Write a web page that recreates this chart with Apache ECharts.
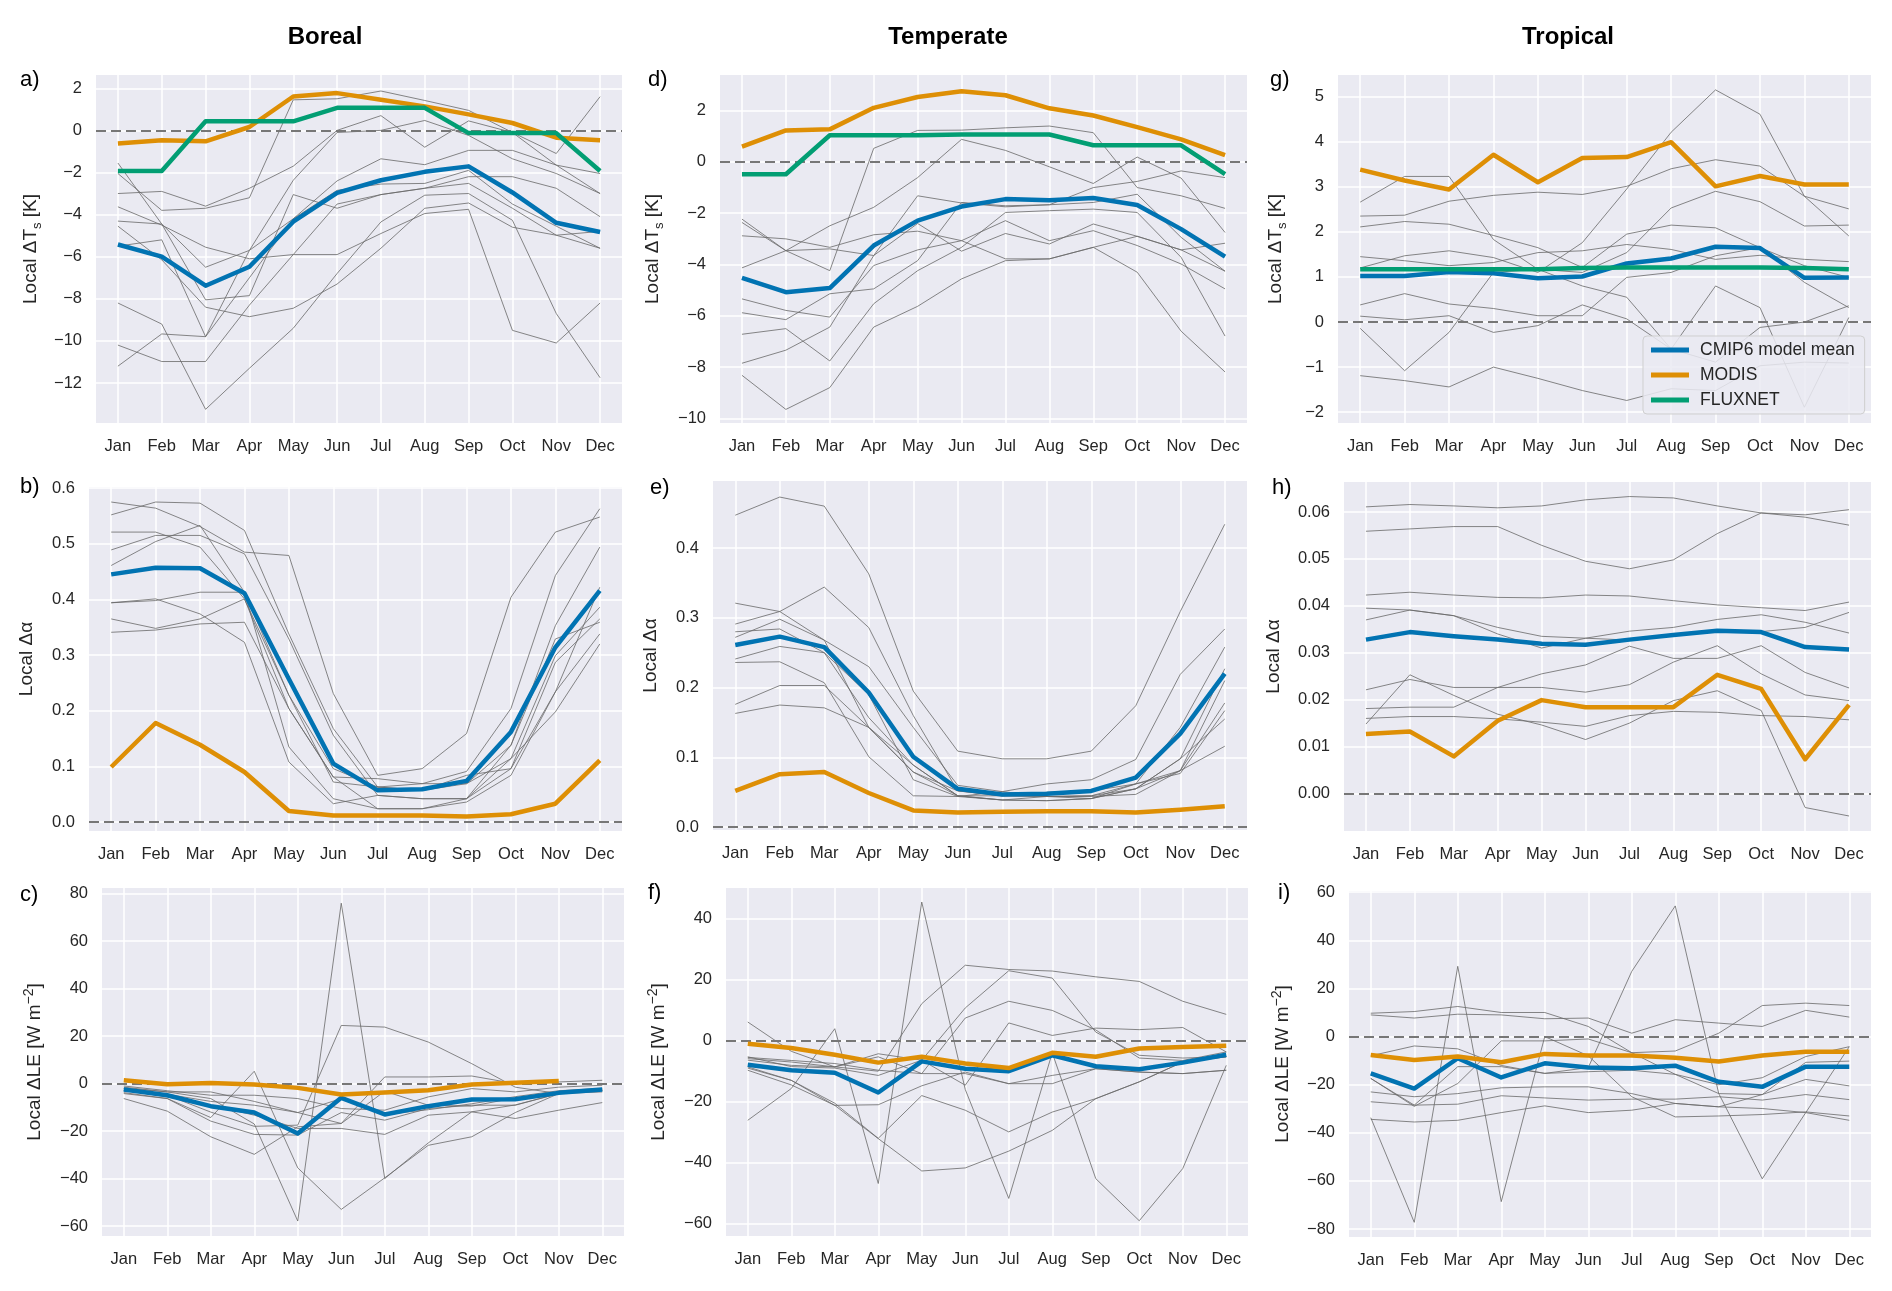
<!DOCTYPE html>
<html><head><meta charset="utf-8">
<script src="https://cdn.jsdelivr.net/npm/echarts@6/dist/echarts.min.js"></script>
<style>html,body{margin:0;padding:0;background:#fff}#c{width:1892px;height:1291px}</style>
</head><body><div id="c"></div><script>
// ---------------- DATA ----------------
const months = ['Jan','Feb','Mar','Apr','May','Jun','Jul','Aug','Sep','Oct','Nov','Dec'];
const regions = ['Boreal','Temperate','Tropical'];
const legendNames = ['CMIP6 model mean','MODIS','FLUXNET'];

// a) Boreal, local dTs [K]
const a_mean = [-5.42,-6.0,-7.38,-6.48,-4.34,-2.97,-2.37,-1.97,-1.71,-2.95,-4.39,-4.83];
const a_modis = [-0.62,-0.47,-0.52,0.16,1.61,1.77,1.45,1.14,0.76,0.35,-0.35,-0.47];
const a_fluxnet = [-1.93,-1.93,0.43,0.43,0.43,1.07,1.07,1.07,-0.13,-0.13,-0.13,-1.93];
const a_models = [
 [-3.0,-2.9,-3.6,-2.75,-1.7,0.0,0.7,-0.8,0.45,-0.1,-1.1,1.6],
 [-1.55,-4.45,-8.05,-7.85,-3.05,-3.7,-3.05,-2.75,-2.2,-2.2,-2.75,-4.1],
 [-2.05,-3.8,-3.7,-3.2,1.45,1.5,1.87,1.42,0.95,-0.1,-1.65,-2.05],
 [-3.63,-4.5,-5.55,-6.1,-5.9,-5.9,-4.9,-3.95,-3.75,-9.5,-10.1,-8.2],
 [-4.31,-4.45,-6.5,-5.7,-4.2,-2.4,-1.35,-1.63,-0.95,-0.95,-1.65,-3.0],
 [-4.55,-6.15,-8.4,-8.85,-8.45,-7.3,-5.6,-3.7,-3.45,-4.6,-4.98,-4.8],
 [-5.5,-5.2,-9.8,-7.0,-4.2,-2.85,-2.55,-2.52,-1.9,-3.5,-4.55,-5.6],
 [-8.2,-9.2,-13.25,-11.3,-9.4,-6.8,-4.35,-3.08,-3.0,-4.27,-8.7,-11.75],
 [-10.2,-10.98,-10.98,-8.3,-5.9,-3.5,-3.05,-2.75,-2.52,-3.7,-4.98,-5.6],
 [-11.2,-9.67,-9.8,-5.7,-2.37,-0.1,0.0,0.47,-0.24,-1.35,-2.05,-3.0]
];

// b) Boreal, local d-albedo
const b_mean = [0.445,0.457,0.456,0.411,0.257,0.105,0.057,0.059,0.074,0.162,0.314,0.416];
const b_modis = [0.099,0.178,0.139,0.09,0.02,0.012,0.012,0.012,0.01,0.014,0.033,0.111];
const b_models = [
 [0.575,0.564,0.531,0.485,0.479,0.231,0.084,0.096,0.159,0.404,0.521,0.548],
 [0.552,0.575,0.573,0.524,0.338,0.168,0.063,0.069,0.091,0.204,0.443,0.563],
 [0.521,0.521,0.494,0.401,0.204,0.081,0.078,0.069,0.069,0.138,0.353,0.494],
 [0.489,0.515,0.515,0.482,0.329,0.156,0.048,0.042,0.042,0.114,0.299,0.386],
 [0.461,0.504,0.533,0.413,0.228,0.072,0.063,0.057,0.084,0.096,0.287,0.365],
 [0.394,0.398,0.413,0.413,0.135,0.042,0.024,0.024,0.036,0.084,0.234,0.422],
 [0.394,0.401,0.374,0.323,0.108,0.033,0.048,0.042,0.042,0.138,0.329,0.359],
 [0.365,0.348,0.365,0.401,0.228,0.096,0.063,0.057,0.069,0.114,0.198,0.32],
 [0.341,0.345,0.356,0.359,0.204,0.081,0.024,0.024,0.042,0.096,0.234,0.338]
];

// c) Boreal, local dLE [W m-2]
const c_mean = [-2.5,-4.9,-9.5,-12.2,-21.0,-6.0,-13.0,-9.5,-6.7,-6.6,-3.9,-2.5];
const c_modis = [1.4,-0.3,0.3,-0.4,-1.8,-4.6,-3.8,-2.8,-0.4,0.4,1.1,null];
const c_models = [
 [-3.8,-6.3,-14.3,5.2,-35.5,-53,-39.7,-26,-22.4,-12.2,-4.2,-2.8],
 [-1.5,-3.5,-6.3,-17,-57.9,76,-40,-25,-11.9,-9,-4.2,-2.8],
 [-2.1,-4.9,-12,-18,-17.5,24.5,23.8,17.5,8.4,-1.5,-4.2,-2.8],
 [-6.3,-11.6,-22.4,-29.8,-18.2,-16.8,2.8,2.8,3.2,0.0,0.7,1.4],
 [-4.2,-6.3,-15.8,-21.4,-21.7,-12.2,-15.4,-10.5,-9.1,-9.1,-4.2,-2.8],
 [-2.8,-5.6,-9.1,-13.3,-18.9,-18.9,-21.4,-13.3,-11.9,-14.7,-11.2,-8.0],
 [-1.0,-3.0,-4.9,-4.9,-6.3,-10.5,-11.2,-5.6,-2.1,-3.5,-1.5,-0.7],
 [-3.0,-4.5,-7.5,-9.1,-12.2,-16.8,-3.2,-9.1,-9.5,-6.0,-4.2,-3.5],
 [-2.0,-3.5,-3.5,-7.5,-12.2,-6.3,-13,-11,-8.5,-5.5,-3.0,-2.0]
];

// d) Temperate, local dTs [K]
const d_mean = [-4.52,-5.08,-4.92,-3.26,-2.29,-1.74,-1.45,-1.49,-1.41,-1.68,-2.62,-3.69];
const d_modis = [0.6,1.23,1.27,2.11,2.53,2.76,2.6,2.09,1.81,1.36,0.88,0.27];
const d_fluxnet = [-0.48,-0.48,1.04,1.04,1.04,1.07,1.07,1.07,0.65,0.65,0.65,-0.48];
const d_models = [
 [-2.23,-3.46,-4.24,0.53,1.23,1.24,1.33,1.4,1.14,-1.0,-1.32,-1.81],
 [-4.13,-3.46,-2.49,-1.77,-0.61,0.88,0.45,-0.19,-0.84,0.19,-0.63,-2.75],
 [-2.88,-3.0,-3.33,-2.84,-2.7,-3.07,-3.78,-3.78,-3.33,-4.3,-6.6,-8.19],
 [-2.36,-3.46,-3.39,-3.65,-2.4,-3.48,-2.79,-3.2,-2.42,-2.9,-3.43,-3.17],
 [-5.34,-5.79,-6.05,-4.04,-3.43,-3.07,-2.29,-3.07,-2.68,-3.26,-3.98,-4.95],
 [-5.88,-6.15,-5.14,-4.95,-3.85,-1.58,-1.71,-1.67,-1.58,-1.26,-2.94,-4.26],
 [-6.72,-6.5,-7.76,-5.53,-4.24,-3.33,-1.97,-1.9,-1.84,-1.97,-3.72,-6.79],
 [-7.85,-7.34,-6.44,-3.65,-1.32,-1.6,-1.75,-1.67,-1.0,-0.76,-0.35,-0.61],
 [-8.32,-9.65,-8.8,-6.44,-5.63,-4.56,-3.85,-3.78,-3.33,-2.9,-3.43,-4.26]
];

// e) Temperate, local d-albedo
const e_mean = [0.261,0.273,0.258,0.193,0.101,0.055,0.047,0.048,0.052,0.071,0.134,0.22];
const e_modis = [0.052,0.076,0.079,0.049,0.024,0.021,0.022,0.023,0.023,0.021,0.025,0.03];
const e_models = [
 [0.447,0.473,0.46,0.363,0.195,0.109,0.098,0.098,0.109,0.174,0.309,0.434],
 [0.321,0.309,0.268,0.23,0.143,0.06,0.051,0.062,0.068,0.097,0.219,0.284],
 [0.291,0.309,0.344,0.286,0.16,0.052,0.045,0.044,0.045,0.062,0.143,0.258],
 [0.28,0.284,0.25,0.157,0.089,0.045,0.039,0.038,0.041,0.055,0.098,0.227],
 [0.272,0.298,0.268,0.143,0.079,0.045,0.039,0.044,0.044,0.047,0.081,0.178],
 [0.241,0.259,0.25,0.19,0.068,0.044,0.051,0.044,0.041,0.062,0.077,0.167],
 [0.236,0.237,0.207,0.101,0.045,0.044,0.039,0.038,0.041,0.055,0.098,0.155],
 [0.176,0.203,0.203,0.143,0.089,0.045,0.045,0.044,0.045,0.055,0.081,0.116],
 [0.163,0.175,0.171,0.143,0.079,0.052,0.045,0.05,0.052,0.062,0.081,0.21]
];

// f) Temperate, local dLE [W m-2]
const f_mean = [-7.9,-9.7,-10.5,-17.0,-6.8,-9.2,-10.0,-4.8,-8.4,-9.4,-7.2,-4.6];
const f_modis = [-1.0,-2.4,-4.6,-7.2,-5.3,-7.5,-9.0,-4.0,-5.3,-2.6,-2.1,-1.7];
const f_models = [
 [-26.1,-15.7,3.9,-46.8,45.4,-16,-51.7,-4,-45.2,-59,-41.9,-8.1],
 [6.1,-3.5,-8.6,-10,12.1,24.7,23.3,22.8,20.9,19.4,12.9,8.6],
 [-5.9,-7.0,-8.6,-4.3,-6.4,10.7,22.9,20.5,2.8,-4.8,-5.7,-5.3],
 [-6.4,-8.1,-8.6,-5.3,-10.8,7.4,12.9,9.9,3.5,-5.7,-6.5,-3.7],
 [-8.6,-13,-21.2,-32.1,-42.7,-41.7,-36.2,-29.4,-19,-13.5,-7.0,-5.3],
 [-9.7,-14.5,-21.2,-21.0,-14.8,-10.3,-14.1,-11.4,-9.2,-10.3,-10.8,-9.7],
 [-5.5,-6.5,-7.5,-9.7,-10.8,-10.8,-14.1,-14.1,-9.2,-10.3,-10.8,-9.7],
 [-9.0,-13,-20.5,-32,-18,-22.8,-29.9,-23.4,-19,-13.5,-7,-5.3],
 [-5.3,-8.5,-9,-11.4,-6.4,-14.6,5.8,1.7,4.1,3.6,4.3,-3.7]
];

// g) Tropical, local dTs [K]
const g_mean = [1.02,1.02,1.11,1.08,0.97,1.01,1.3,1.41,1.67,1.64,0.98,0.99];
const g_modis = [3.38,3.14,2.94,3.71,3.1,3.64,3.66,3.99,3.01,3.24,3.05,3.05];
const g_fluxnet = [1.17,1.17,1.17,1.17,1.17,1.2,1.21,1.21,1.21,1.21,1.2,1.17];
const g_models = [
 [2.66,3.23,3.23,1.83,1.17,0.8,0.55,-0.6,0.8,0.32,-1.89,0.1],
 [2.35,2.37,2.68,2.81,2.88,2.83,3.01,3.4,3.6,3.46,2.79,2.51],
 [2.11,2.23,2.17,1.92,1.65,1.21,1.95,2.15,2.09,1.65,1.25,0.99],
 [1.2,1.47,1.58,1.43,1.1,1.76,2.95,4.21,5.15,4.61,2.79,1.91],
 [1.45,1.36,1.25,1.32,1.54,1.58,1.72,1.61,1.39,1.48,1.39,1.34],
 [0.38,0.63,0.4,0.3,0.14,0.14,0.99,1.1,1.47,1.65,0.88,0.32],
 [0.13,0.05,0.14,-0.23,-0.08,0.38,0.07,-0.6,-0.89,-0.12,0.0,0.36],
 [-0.14,-1.08,-0.23,1.1,1.17,1.1,1.54,2.53,2.9,2.67,2.13,2.15],
 [-1.19,-1.3,-1.44,-1.0,-1.25,-1.52,-1.74,-1.48,-1.52,-0.97,-0.89,-0.91]
];

// h) Tropical, local d-albedo
const h_mean = [0.0328,0.0344,0.0335,0.0328,0.0319,0.0317,0.0328,0.0338,0.0347,0.0344,0.0312,0.0307];
const h_modis = [0.0127,0.0132,0.0079,0.0155,0.0199,0.0184,0.0184,0.0184,0.0253,0.0223,0.0073,0.0189];
const h_models = [
 [0.0611,0.0616,0.0613,0.0609,0.0613,0.0626,0.0633,0.063,0.0613,0.0598,0.0589,0.0572],
 [0.0559,0.0564,0.0569,0.0569,0.0529,0.0495,0.0479,0.0498,0.0554,0.0598,0.0594,0.0605],
 [0.0423,0.0429,0.0423,0.0418,0.0417,0.0423,0.0421,0.0411,0.0402,0.0396,0.039,0.0408],
 [0.0395,0.0391,0.0379,0.034,0.031,0.0331,0.0346,0.0354,0.0371,0.0381,0.0365,0.0342],
 [0.037,0.0391,0.0379,0.0354,0.0335,0.0331,0.0327,0.0337,0.0345,0.0345,0.0354,0.0386],
 [0.0221,0.0243,0.0226,0.0226,0.0226,0.0216,0.0232,0.028,0.0315,0.0255,0.021,0.0198],
 [0.0181,0.0184,0.0184,0.0226,0.0255,0.0274,0.0314,0.0288,0.0288,0.0315,0.0258,0.0225],
 [0.016,0.0164,0.0164,0.0159,0.0152,0.0143,0.0166,0.0175,0.0173,0.0166,0.0164,0.0157],
 [0.0148,0.0253,0.0209,0.0169,0.0146,0.0115,0.015,0.0198,0.0219,0.0177,-0.003,-0.0048]
];

// i) Tropical, local dLE [W m-2]
const i_mean = [-15.3,-21.6,-9.0,-17.0,-11.1,-12.9,-13.2,-12.1,-18.8,-20.9,-12.5,-12.5];
const i_modis = [-7.7,-9.7,-8.3,-10.7,-7.2,-7.9,-7.9,-8.8,-10.4,-7.9,-6.3,-6.3];
const i_models = [
 [-33.7,-77.2,29.2,-68.6,0,-8,-25,-33.4,-33,-32.4,-31.3,-33],
 [-17.4,-28.5,-12.5,-12.5,-15.3,-12.9,27.1,54.3,-23.7,-59.1,-31.6,-4.2],
 [9.7,10.4,12.5,10.0,10.0,4.2,-6.7,-15.7,-23.7,-24.1,-17.8,-20.5],
 [9.0,7.7,9.3,9.0,7.4,7.7,1.4,7.0,5.6,4.2,10.9,8.1],
 [-8,-3.9,-5.1,-12,-15.3,-14.6,-14,-15.7,-20,-17.1,-8.3,-4.2],
 [-17.4,-29,-19.5,-1.8,-1.8,-1.0,-6.7,-6.0,1.4,12.9,13.9,12.9],
 [-23,-25,-23.7,-21.3,-20.9,-20.9,-23.7,-27.8,-29.2,-24.1,-10.7,-10.2],
 [-27.1,-28.5,-28.1,-24.6,-25.5,-26.4,-26,-26,-25,-26.4,-24.1,-26.2],
 [-34.4,-35.5,-34.8,-31.6,-28.8,-31.6,-30.6,-27.8,-29.2,-29.9,-31.6,-34.8]
];

// ---------------- LAYOUT / STYLE ----------------
const FONT = "'Liberation Sans', Arial, sans-serif";
const C_MEAN = '#0173B2', C_MODIS = '#DE8F05', C_FLUX = '#029E73';
const NAME_TS = '{n|Local ΔT}{s|s}{n| [K]}';
const NAME_AL = '{n|Local Δα}';
const NAME_LE = '{n|Local ΔLE [W m}{p|−2}{n|]}';

const panels = [
 {key:'a', models:a_models, mean:a_mean, modis:a_modis, flux:a_fluxnet, name:NAME_TS, g:{left:96, top:75, width:526, height:348}, min:-13.9, max:2.63, step:2, dec:0, gap:52, lab:[20,80]},
 {key:'b', models:b_models, mean:b_mean, modis:b_modis, flux:null, name:NAME_AL, g:{left:89, top:487, width:533, height:344}, min:-0.016, max:0.602, step:0.1, dec:1, gap:49, lab:[20,487]},
 {key:'c', models:c_models, mean:c_mean, modis:c_modis, flux:null, name:NAME_LE, g:{left:102, top:888, width:522, height:348}, min:-64.2, max:82.4, step:20, dec:0, gap:54, lab:[20,895]},
 {key:'d', models:d_models, mean:d_mean, modis:d_modis, flux:d_fluxnet, name:NAME_TS, g:{left:720, top:75, width:527, height:348}, min:-10.18, max:3.39, step:2, dec:0, gap:54, lab:[648,80]},
 {key:'e', models:e_models, mean:e_mean, modis:e_modis, flux:null, name:NAME_AL, g:{left:713, top:481, width:534, height:349}, min:-0.004, max:0.496, step:0.1, dec:1, gap:49, lab:[650,488]},
 {key:'f', models:f_models, mean:f_mean, modis:f_modis, flux:null, name:NAME_LE, g:{left:726, top:888, width:522, height:348}, min:-64, max:50, step:20, dec:0, gap:54, lab:[648,893]},
 {key:'g', models:g_models, mean:g_mean, modis:g_modis, flux:g_fluxnet, name:NAME_TS, g:{left:1338, top:75, width:533, height:348}, min:-2.24, max:5.48, step:1, dec:0, gap:49, lab:[1270,80]},
 {key:'h', models:h_models, mean:h_mean, modis:h_modis, flux:null, name:NAME_AL, g:{left:1344, top:482, width:527, height:349}, min:-0.008, max:0.0664, step:0.01, dec:2, gap:57, lab:[1272,488]},
 {key:'i', models:i_models, mean:i_mean, modis:i_modis, flux:null, name:NAME_LE, g:{left:1349, top:891, width:522, height:346}, min:-83.3, max:60.5, step:20, dec:0, gap:53, lab:[1278,893]}
];
const titlePos = [[325,37],[948,37],[1568,37]];

const toPairs = arr => arr.map((v,i) => [i, v]).filter(p => p[1] !== null);
const grids = [], xAxes = [], yAxes = [], series = [];

panels.forEach((p, k) => {
  grids.push(Object.assign({show:true, backgroundColor:'#EAEAF2', borderWidth:0, containLabel:false}, p.g));
  xAxes.push({
    type:'value', gridIndex:k, min:-0.5, max:11.5, minInterval:1, maxInterval:1,
    axisLine:{show:false}, axisTick:{show:false},
    splitLine:{show:true, showMinLine:false, showMaxLine:false, lineStyle:{color:'#ffffff', width:1.5}},
    axisLabel:{show:true, showMinLabel:false, showMaxLabel:false, margin:15, color:'#262626', fontSize:16.5, fontFamily:FONT,
      formatter: v => (Math.abs(v - Math.round(v)) < 1e-6 && v >= 0 && v <= 11) ? months[Math.round(v)] : ''}
  });
  yAxes.push({
    type:'value', gridIndex:k, min:p.min, max:p.max, minInterval:p.step, maxInterval:p.step,
    axisLine:{show:false}, axisTick:{show:false},
    splitLine:{show:true, showMinLine:false, showMaxLine:false, lineStyle:{color:'#ffffff', width:1.5}},
    axisLabel:{show:true, showMinLabel:false, showMaxLabel:false, margin:14, color:'#262626', fontSize:16.5, fontFamily:FONT,
      formatter: v => v.toFixed(p.dec).replace('-', '\u2212')},
    name:p.name, nameLocation:'middle', nameRotate:90, nameGap:p.gap,
    nameTextStyle:{fontFamily:FONT, color:'#262626', rich:{
      n:{fontSize:19, fontFamily:FONT, color:'#262626', lineHeight:26, verticalAlign:'middle'},
      s:{fontSize:13, fontFamily:FONT, color:'#262626', lineHeight:26, verticalAlign:'bottom'},
      p:{fontSize:14, fontFamily:FONT, color:'#262626', lineHeight:26, verticalAlign:'top'}
    }}
  });
  p.models.forEach(m => series.push({
    type:'line', xAxisIndex:k, yAxisIndex:k, data:toPairs(m), symbol:'none', silent:true, z:2,
    lineStyle:{color:'rgba(105,105,105,0.8)', width:1}, itemStyle:{color:'rgba(105,105,105,0.8)'}
  }));
  series.push({
    type:'line', name:'CMIP6 model mean', xAxisIndex:k, yAxisIndex:k, data:toPairs(p.mean), symbol:'none', z:4,
    lineStyle:{color:C_MEAN, width:4.5, join:'round'}, itemStyle:{color:C_MEAN},
    markLine:{silent:true, symbol:'none', label:{show:false}, z:3,
      lineStyle:{color:'#777777', width:2.2, type:[10,5]}, data:[{yAxis:0}]}
  });
  series.push({
    type:'line', name:'MODIS', xAxisIndex:k, yAxisIndex:k, data:toPairs(p.modis), symbol:'none', z:5,
    lineStyle:{color:C_MODIS, width:4.5, join:'round'}, itemStyle:{color:C_MODIS}
  });
  if (p.flux) series.push({
    type:'line', name:'FLUXNET', xAxisIndex:k, yAxisIndex:k, data:toPairs(p.flux), symbol:'none', z:6,
    lineStyle:{color:C_FLUX, width:4.5, join:'round'}, itemStyle:{color:C_FLUX}
  });
});

const graphics = [];
regions.forEach((r, k) => graphics.push({type:'text', x:titlePos[k][0], y:titlePos[k][1], z:10,
  style:{text:r, font:"bold 24px " + FONT, fill:'#000', textAlign:'center', textVerticalAlign:'middle'}}));
panels.forEach(p => graphics.push({type:'text', x:p.lab[0], y:p.lab[1], z:10,
  style:{text:p.key + ')', font:"22px " + FONT, fill:'#000', textAlign:'left', textVerticalAlign:'middle'}}));

const chart = echarts.init(document.getElementById('c'), null, {renderer:'canvas'});
chart.setOption({
  animation:false,
  backgroundColor:'#ffffff',
  grid:grids, xAxis:xAxes, yAxis:yAxes, series:series, graphic:graphics,
  legend:{
    data:legendNames, orient:'vertical', left:1643, top:336, padding:[5,10,5,8], itemGap:7,
    itemWidth:38, itemHeight:5, icon:'rect',
    backgroundColor:'rgba(234,234,242,0.85)', borderColor:'#cfcfcf', borderWidth:1, borderRadius:4,
    textStyle:{fontFamily:FONT, fontSize:17.5, color:'#262626', padding:[0,0,0,6]},
    selectedMode:false
  }
});
</script></body></html>
